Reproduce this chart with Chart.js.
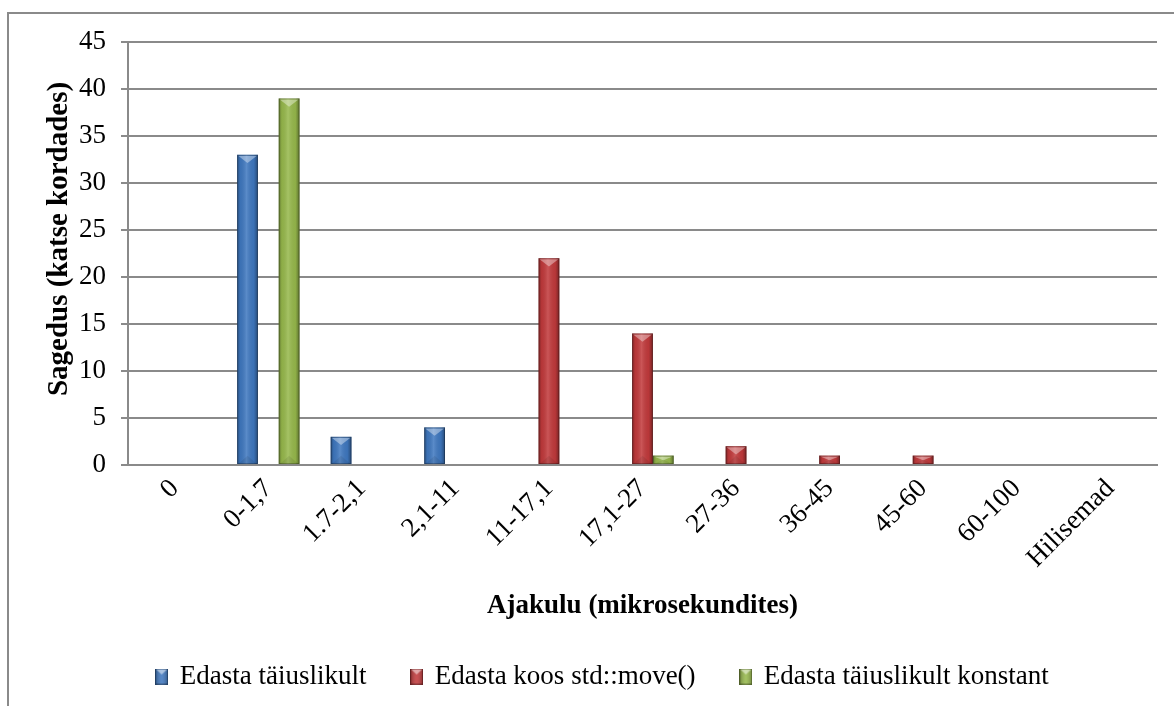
<!DOCTYPE html>
<html>
<head>
<meta charset="utf-8">
<script src="https://cdn.jsdelivr.net/npm/chart.js@4/dist/chart.umd.min.js"></script>
<style>
  html, body { margin: 0; padding: 0; background: #fff; overflow: hidden; }
  #wrap { position: relative; width: 1174px; height: 706px; }
</style>
</head>
<body>
<div id="wrap"><canvas id="c" width="1174" height="706"></canvas></div>
<script>
// Ajavahemikud (mikrosekundites)
const categories = ['0', '0-1,7', '1.7-2,1', '2,1-11', '11-17,1', '17,1-27', '27-36', '36-45', '45-60', '60-100', 'Hilisemad'];
// Sagedused katse kordades
const perfectForward = [0, 33, 3, 4, 0, 0, 0, 0, 0, 0, 0];
const moveForward = [0, 0, 0, 0, 22, 14, 2, 1, 1, 0, 0];
const perfectConst = [0, 39, 0, 0, 0, 1, 0, 0, 0, 0, 0];
const seriesNames = ['Edasta täiuslikult', 'Edasta koos std::move()', 'Edasta täiuslikult konstant'];
const yTicks = [0, 5, 10, 15, 20, 25, 30, 35, 40, 45];

const colors = ['#3f78c0', '#c23a3c', '#97b94c'];
const FONT = '"Liberation Serif", "Times New Roman", serif';
const FS = 27;

// small legend swatch with the same bevel look as the bars
function swatch(color) {
  const W = 13, H = 16;
  const cv = document.createElement('canvas');
  cv.width = W; cv.height = H;
  const x = cv.getContext('2d');
  x.fillStyle = color; x.fillRect(0, 0, W, H);
  const g = x.createLinearGradient(0, 0, W, 0);
  g.addColorStop(0, 'rgba(0,0,0,0.3)');
  g.addColorStop(0.5, 'rgba(255,255,255,0.12)');
  g.addColorStop(1, 'rgba(0,0,0,0.3)');
  x.fillStyle = g; x.fillRect(0, 0, W, H);
  x.fillStyle = 'rgba(255,255,255,0.5)';
  x.beginPath(); x.moveTo(1, 1); x.lineTo(W - 1, 1); x.lineTo(W / 2, 6); x.closePath(); x.fill();
  x.strokeStyle = 'rgba(0,0,0,0.3)'; x.lineWidth = 1; x.strokeRect(0.5, 0.5, W - 1, H - 1);
  return cv;
}

// frame and white page background
const framePlugin = {
  id: 'frame',
  beforeDraw(chart) {
    const ctx = chart.ctx;
    ctx.save();
    ctx.fillStyle = '#fff';
    ctx.fillRect(0, 0, chart.width, chart.height);
    ctx.strokeStyle = '#8a8a8a';
    ctx.lineWidth = 2;
    ctx.beginPath();
    ctx.moveTo(8, chart.height + 5);
    ctx.lineTo(8, 13);
    ctx.lineTo(chart.width + 5, 13);
    ctx.stroke();
    ctx.restore();
  }
};

// bevel shading on top of every bar the library has laid out
const bevelPlugin = {
  id: 'bevel',
  afterDatasetsDraw(chart) {
    const ctx = chart.ctx;
    chart.data.datasets.forEach((ds, di) => {
      const meta = chart.getDatasetMeta(di);
      meta.data.forEach(bar => {
        const h = bar.base - bar.y;
        if (h <= 0.5) return;
        const l = bar.x - bar.width / 2, r = bar.x + bar.width / 2, w = bar.width;
        const t = bar.y, b = bar.base;
        ctx.save();
        const g = ctx.createLinearGradient(l, 0, r, 0);
        g.addColorStop(0, 'rgba(0,0,0,0.35)');
        g.addColorStop(0.15, 'rgba(0,0,0,0.06)');
        g.addColorStop(0.45, 'rgba(255,255,255,0.14)');
        g.addColorStop(0.8, 'rgba(0,0,0,0.05)');
        g.addColorStop(1, 'rgba(0,0,0,0.38)');
        ctx.fillStyle = g;
        ctx.fillRect(l, t, w, h);
        const th = Math.min(w * 0.4, h * 0.55);
        ctx.fillStyle = 'rgba(255,255,255,0.38)';
        ctx.beginPath();
        ctx.moveTo(l + 1, t + 1); ctx.lineTo(r - 1, t + 1); ctx.lineTo(bar.x, t + th); ctx.closePath();
        ctx.fill();
        ctx.fillStyle = 'rgba(0,0,0,0.08)';
        ctx.beginPath();
        ctx.moveTo(l + 1, b); ctx.lineTo(r - 1, b); ctx.lineTo(bar.x, b - th); ctx.closePath();
        ctx.fill();
        ctx.strokeStyle = 'rgba(0,0,0,0.25)';
        ctx.lineWidth = 1;
        ctx.strokeRect(l + 0.5, t + 0.5, w - 1, h - 1);
        ctx.restore();
      });
    });
  }
};

const seriesData = [perfectForward, moveForward, perfectConst];
const swatches = colors.map(swatch);

new Chart(document.getElementById('c'), {
  type: 'bar',
  data: {
    labels: categories,
    datasets: seriesData.map((d, i) => ({
      label: seriesNames[i],
      data: d,
      backgroundColor: colors[i],
      borderWidth: 0,
      barPercentage: 1,
      categoryPercentage: 0.667,
      pointStyle: swatches[i]
    }))
  },
  options: {
    responsive: false,
    animation: false,
    events: [],
    layout: { padding: { left: 49, top: 42, right: 17, bottom: 6 } },
    plugins: {
      tooltip: { enabled: false },
      legend: {
        position: 'bottom',
        labels: {
          usePointStyle: true,
          pointStyleWidth: 9,
          boxHeight: 16,
          color: '#000',
          padding: 12,
          font: { family: FONT, size: FS },
          generateLabels(chart) {
            return chart.data.datasets.map((ds, i) => ({
              text: ds.label + (i < 2 ? '\u00a0'.repeat(5) : ''),
              pointStyle: ds.pointStyle,
              fillStyle: ds.backgroundColor,
              strokeStyle: ds.backgroundColor,
              lineWidth: 0,
              hidden: false,
              datasetIndex: i,
              fontColor: '#000'
            }));
          }
        }
      }
    },
    scales: {
      x: {
        grid: { display: false, drawTicks: false },
        border: { display: true, color: '#8a8a8a', width: 2 },
        ticks: {
          color: '#000',
          font: { family: FONT, size: FS },
          minRotation: 45, maxRotation: 45,
          autoSkip: false,
          padding: 8
        },
        title: {
          display: true,
          text: 'Ajakulu (mikrosekundites)',
          color: '#000',
          font: { family: FONT, size: FS, weight: 'bold' },
          padding: { top: 0, bottom: 29 }
        },
        afterFit(scale) { scale.height = 186; }
      },
      y: {
        min: 0, max: 45,
        afterBuildTicks(scale) { scale.ticks = yTicks.map(v => ({ value: v })); },
        grid: { color: '#8a8a8a', lineWidth: 2, drawTicks: true, tickLength: 7 },
        border: { display: true, color: '#8a8a8a', width: 2 },
        ticks: { color: '#000', font: { family: FONT, size: FS }, padding: 15 },
        title: {
          display: true,
          text: '\u00a0\u00a0\u00a0\u00a0Sagedus (katse kordades)',
          color: '#000',
          font: { family: FONT, size: 29, weight: 'bold' },
          padding: { top: -7, bottom: 0 }
        },
        afterFit(scale) { scale.width = 79; }
      }
    }
  },
  plugins: [framePlugin, bevelPlugin]
});
</script>
</body>
</html>
